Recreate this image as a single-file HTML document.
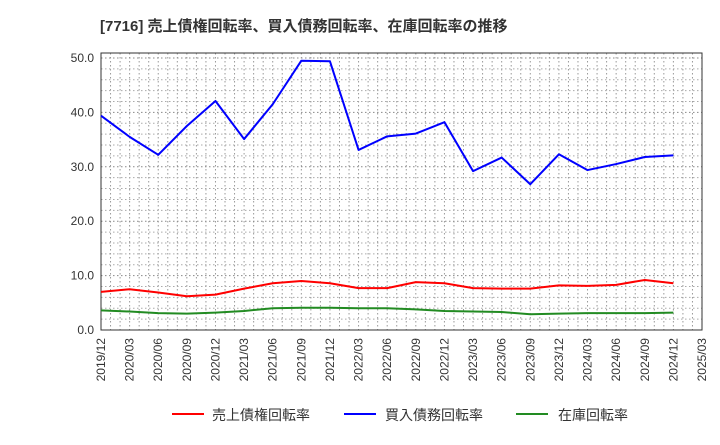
<!DOCTYPE html>
<html><head><meta charset="utf-8"><style>
body{margin:0;background:#fff;font-family:"Liberation Sans","Noto Sans CJK JP",sans-serif;}
</style></head><body>
<svg width="720" height="440" xmlns="http://www.w3.org/2000/svg" id="chart" font-family="Liberation Sans, Noto Sans CJK JP, sans-serif">
<text x="100" y="31" font-size="15" font-weight="bold" fill="#333">[7716]  売上債権回転率、買入債務回転率、在庫回転率の推移</text>
<g id="grid"></g><g id="axes"></g><g id="series"></g>
<g>
<line x1="172" y1="414" x2="204" y2="414" stroke="#f00" stroke-width="2"/>
<text x="212" y="420" font-size="14" fill="#333">売上債権回転率</text>
<line x1="344" y1="414" x2="376" y2="414" stroke="#00f" stroke-width="2"/>
<text x="385" y="420" font-size="14" fill="#333">買入債務回転率</text>
<line x1="516" y1="414" x2="548" y2="414" stroke="#228b22" stroke-width="2"/>
<text x="558" y="420" font-size="14" fill="#333">在庫回転率</text>
</g>
</svg>
<script>
const categories=["2019/12","2020/03","2020/06","2020/09","2020/12","2021/03","2021/06","2021/09","2021/12","2022/03","2022/06","2022/09","2022/12","2023/03","2023/06","2023/09","2023/12","2024/03","2024/06","2024/09","2024/12","2025/03"];
const payables=[39.4,35.5,32.2,37.5,42.1,35.1,41.5,49.5,49.4,33.1,35.6,36.1,38.2,29.2,31.7,26.8,32.3,29.4,30.5,31.8,32.1];
const receivables=[7.0,7.5,6.9,6.2,6.5,7.6,8.6,9.0,8.6,7.7,7.7,8.8,8.6,7.7,7.6,7.6,8.2,8.1,8.3,9.2,8.6];
const inventory=[3.6,3.4,3.1,3.0,3.2,3.5,4.0,4.1,4.1,4.0,4.0,3.8,3.5,3.4,3.3,2.9,3.0,3.1,3.1,3.1,3.2];
const yTicks=[0,10,20,30,40,50];
const NS="http://www.w3.org/2000/svg";
const L=101,R=702,T=53,B=330;
const xs=i=>L+(R-L)*i/(categories.length-1);
const ys=v=>B-v*5.44;
function mk(tag,attrs,parent){const e=document.createElementNS(NS,tag);for(const k in attrs)e.setAttribute(k,attrs[k]);parent.appendChild(e);return e;}
const grid=document.getElementById('grid'),axes=document.getElementById('axes'),ser=document.getElementById('series');
for(let m=0;m<=63;m++){const x=L+(R-L)*m/63;const l=mk('line',{x1:x,x2:x,y1:T,y2:B,stroke:'#999','stroke-dasharray':'1.5,2.5','stroke-width':1},grid);

}
for(let v=2;v<=50;v+=2){const y=ys(v);const l=mk('line',{x1:L,x2:R,y1:y,y2:y,stroke:v%10==0?'#888':'#aaa','stroke-dasharray':'1.5,2.5','stroke-width':1},grid);

}
const frame=mk('rect',{x:L,y:T,width:R-L,height:B-T,fill:'none',stroke:'#333','stroke-width':1},axes);


yTicks.forEach(v=>{const t=mk('text',{x:L-7,y:ys(v)+4,'font-size':12,'text-anchor':'end',fill:'#333'},axes);t.textContent=v.toFixed(1);

});
categories.forEach((c,i)=>{const x=xs(i)+4,y=B+8;const t=mk('text',{x:x,y:y,'font-size':12,'text-anchor':'end',fill:'#333',transform:`rotate(-90 ${x} ${y})`},axes);t.textContent=c;

});
[[payables,'#00f','payables-line'],[receivables,'#f00','receivables-line'],[inventory,'#228b22','inventory-line']].forEach(([d,c,n])=>{
const p=mk('polyline',{points:d.map((v,i)=>xs(i)+','+ys(v)).join(' '),fill:'none',stroke:c,'stroke-width':2,'stroke-linejoin':'round'},ser);

});
</script>
</body></html>
